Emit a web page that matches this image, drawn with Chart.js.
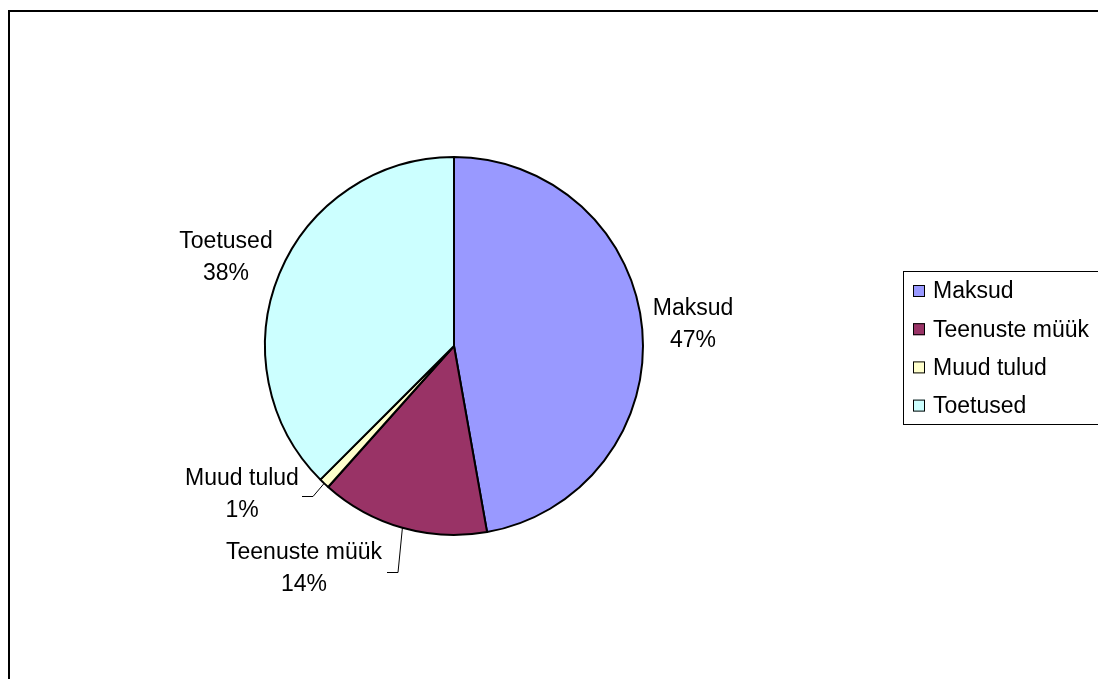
<!DOCTYPE html>
<html>
<head>
<meta charset="utf-8">
<script src="https://cdn.jsdelivr.net/npm/chart.js@4"></script>
<style>
  html, body { margin: 0; padding: 0; background: #fff; }
  #wrap { width: 1098px; height: 679px; position: relative; }
</style>
</head>
<body>
<div id="wrap"><canvas id="pieChart"></canvas></div>
<script>
// data
const categories = ["Maksud", "Teenuste müük", "Muud tulud", "Toetused"];
const shares = [47.2, 14.4, 0.9, 37.5];
const sliceColors = ["#9999FF", "#993366", "#FFFFCC", "#CCFFFF"];

const FONT = '23px "Liberation Sans", Arial, sans-serif';

// label block centres, relative to the pie centre
const labelOffsets = [[239, -21], [-150, 223], [-212, 149], [-228, -88]];
// leader lines (elbow, end), relative to the pie centre; null = no line
const leaders = [null, [[-56, 226], [-67, 226]], [[-141, 150], [-152, 150]], null];

const framePlugin = {
  id: "frame",
  beforeDraw(chart) {
    const ctx = chart.ctx;
    ctx.save();
    ctx.fillStyle = "#fff";
    ctx.fillRect(0, 0, chart.width, chart.height);
    ctx.strokeStyle = "#000";
    ctx.lineWidth = 2;
    ctx.beginPath();
    ctx.moveTo(9, chart.height + 2);
    ctx.lineTo(9, 11);
    ctx.lineTo(chart.width + 2, 11);
    ctx.stroke();
    ctx.restore();
  }
};

const labelPlugin = {
  id: "sliceLabels",
  afterDraw(chart) {
    const ctx = chart.ctx;
    const meta = chart.getDatasetMeta(0);
    const total = shares.reduce((a, b) => a + b, 0);
    ctx.save();
    ctx.font = FONT;
    ctx.fillStyle = "#000";
    ctx.textAlign = "center";
    ctx.textBaseline = "middle";
    meta.data.forEach((arc, i) => {
      const cx = arc.x, cy = arc.y;
      const pct = Math.round(shares[i] / total * 100) + "%";
      const lx = cx + labelOffsets[i][0];
      const ly = cy + labelOffsets[i][1];
      ctx.fillText(categories[i], lx, ly - 16);
      ctx.fillText(pct, lx, ly + 16);

      if (leaders[i]) {
        const mid = (arc.startAngle + arc.endAngle) / 2;
        const sx = cx + Math.cos(mid) * arc.outerRadius;
        const sy = cy + Math.sin(mid) * arc.outerRadius;
        ctx.strokeStyle = "#000";
        ctx.lineWidth = 1;
        ctx.beginPath();
        ctx.moveTo(sx, sy);
        ctx.lineTo(cx + leaders[i][0][0], cy + leaders[i][0][1] + 0.5);
        ctx.lineTo(cx + leaders[i][1][0], cy + leaders[i][1][1] + 0.5);
        ctx.stroke();
      }
    });

    // legend box
    const bx = 903.5, by = 271.5;
    ctx.strokeStyle = "#000";
    ctx.lineWidth = 1;
    ctx.strokeRect(bx, by, chart.width, 153);
    ctx.textAlign = "left";
    categories.forEach((name, i) => {
      const rowY = 291 + i * 38.2;
      ctx.fillStyle = sliceColors[i];
      ctx.fillRect(913, rowY - 6, 12, 12);
      ctx.strokeRect(913.5, rowY - 5.5, 11, 11);
      ctx.fillStyle = "#000";
      ctx.fillText(name, 933, rowY + 1);
    });
    ctx.restore();
  }
};

const ctx = document.getElementById("pieChart").getContext("2d");
new Chart(ctx, {
  type: "pie",
  data: {
    labels: categories,
    datasets: [{
      data: shares,
      backgroundColor: sliceColors,
      borderColor: "#000",
      borderWidth: 2
    }]
  },
  options: {
    responsive: true,
    maintainAspectRatio: false,
    animation: false,
    layout: { padding: { left: 264, top: 156, right: 454, bottom: 143 } },
    plugins: {
      legend: { display: false },
      tooltip: { enabled: false }
    }
  },
  plugins: [framePlugin, labelPlugin]
});
</script>
</body>
</html>
